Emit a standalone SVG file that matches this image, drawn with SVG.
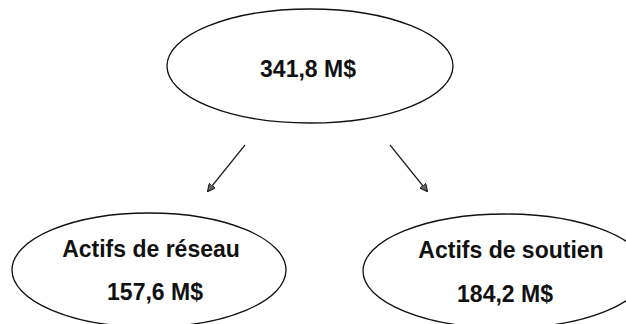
<svg xmlns="http://www.w3.org/2000/svg" width="626" height="324" viewBox="0 0 626 324">
<style>
.n ellipse{fill:none;stroke:#111;stroke-width:1.3}
.t{font-family:"Liberation Sans",Arial,sans-serif;font-size:23px;font-weight:bold;fill:#111;text-anchor:middle}
.c line{stroke:#222;stroke-width:1.2}
</style>
<defs>
<marker id="ah" viewBox="0 0 10 10" refX="9" refY="5" markerWidth="8" markerHeight="8" markerUnits="userSpaceOnUse" orient="auto">
<path d="M0,0 L10,5 L0,10 z" fill="#666" stroke="#222" stroke-width="1.5"/>
</marker>
</defs>
<rect width="626" height="324" fill="#fff"/>
<g id="total" class="n">
<ellipse cx="310" cy="66" rx="143" ry="57"/>
<text class="t" x="308" y="77">341,8 M$</text>
</g>
<g id="reseau" class="n">
<ellipse cx="149" cy="270" rx="137" ry="57"/>
<text class="t" x="151" y="257">Actifs de réseau</text>
<text class="t" x="155" y="300">157,6 M$</text>
</g>
<g id="soutien" class="n">
<ellipse cx="505" cy="271" rx="142" ry="57"/>
<text class="t" x="511" y="258">Actifs de soutien</text>
<text class="t" x="505" y="302">184,2 M$</text>
</g>
<g id="connectors" class="c">
<line x1="245" y1="145" x2="208" y2="191" marker-end="url(#ah)"/>
<line x1="390" y1="145" x2="427" y2="191" marker-end="url(#ah)"/>
</g>
</svg>
